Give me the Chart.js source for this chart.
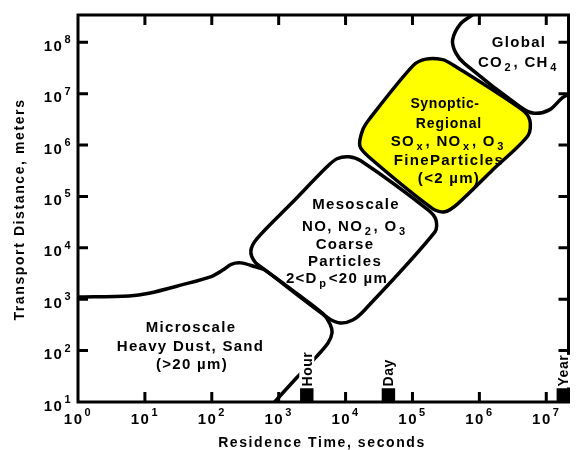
<!DOCTYPE html>
<html>
<head>
<meta charset="utf-8">
<script src="https://cdn.jsdelivr.net/npm/chart.js@4.4.1/dist/chart.umd.min.js"></script>
<style>
html,body{margin:0;padding:0;background:#fff;overflow:hidden;}
#wrap{position:relative;width:578px;height:450px;}
canvas{display:block;}
</style>
</head>
<body>
<div id="wrap"><canvas id="chart" width="578" height="450"></canvas></div>
<script>
// ---- Axis ticks (decades) ----
const xTickValues = [1, 10, 100, 1e3, 1e4, 1e5, 1e6, 1e7];
const xTickExponents = ['0', '1', '2', '3', '4', '5', '6', '7'];
const yTickValues = [10, 100, 1e3, 1e4, 1e5, 1e6, 1e7, 1e8];
const yTickExponents = ['1', '2', '3', '4', '5', '6', '7', '8'];

// ---- Microscale boundary (residence time [s], transport distance [m]) ----
const microTime = [1, 5.8, 11.5, 35.4, 98, 148, 195, 273, 435, 612, 1900, 4630, 5850, 6270, 5470, 3520, 1900, 870, 733];
const microDist = [1100, 1160, 1310, 1900, 2760, 3730, 4780, 5100, 4330, 3730, 1270, 518, 331, 221, 141, 72, 30.7, 10, 7.6];

// ---- Mesoscale region outline ----
const mesoTime = [1580, 5270, 7430, 11200, 16900, 171000, 224000, 217000, 19300, 12800, 8240, 5470, 598, 440, 384, 471, 1580];
const mesoDist = [75300, 378000, 542000, 593000, 495000, 55000, 35200, 20500, 619, 395, 346, 433, 3900, 5340, 8750, 15000, 75300];

// ---- Synoptic-Regional region outline ----
const synTime = [1.59e6, 474000, 305000, 202000, 22100, 16300, 18100, 22900, 102000, 159000, 282000, 400000, 4.34e6, 5.7e6, 5.32e6, 1.59e6];
const synDist = [331000, 71900, 50400, 57500, 593000, 971000, 1.99e6, 3.26e6, 3.52e7, 4.71e7, 4.6e7, 3.67e7, 4.89e6, 2.98e6, 1.52e6, 331000];

// ---- Global region outline ----
const globalTime = [1.2e6, 800000, 525000, 399000, 442000, 601000, 4.05e6, 6.53e6, 1.13e7, 1.75e7, 2.64e7];
const globalDist = [5.42e8, 3.46e8, 2.31e8, 1.13e8, 6.3e7, 3.85e7, 5.58e6, 4.17e6, 4.89e6, 8.38e6, 1.09e7];

// ---- Time markers ----
const markerLabels = ['Hour', 'Day', 'Year'];
const markerTime = [2630, 43700, 1.8e7];
const markerDist = [13.7, 13.7, 13.7];

const FONT = '"Liberation Sans", Arial, Helvetica, sans-serif';

function pts(xs, ys) { return xs.map((x, i) => ({ x: x, y: ys[i] })); }

const regionText = [
  { x: 519, y: 47, parts: [['Global', 'n']] },
  { x: 518.5, y: 67, parts: [['CO', 'n'], ['2', 'sub'], [', CH', 'n'], ['4', 'sub']] },
  { x: 445, y: 108, size: 14, sp: 0.6, parts: [['Synoptic-', 'n']] },
  { x: 449, y: 127.5, size: 14, sp: 0.9, parts: [['Regional', 'n']] },
  { x: 448.5, y: 145.5, parts: [['SO', 'n'], ['x', 'sub'], [', NO', 'n'], ['x', 'sub'], [', O', 'n'], ['3', 'sub']] },
  { x: 449, y: 164.5, parts: [['FineParticles', 'n']] },
  { x: 449, y: 183, parts: [['(<2 \u00b5m)', 'n']] },
  { x: 356, y: 209, parts: [['Mesoscale', 'n']] },
  { x: 355, y: 230.5, parts: [['NO, NO', 'n'], ['2', 'sub'], [', O', 'n'], ['3', 'sub']] },
  { x: 345, y: 249, parts: [['Coarse', 'n']] },
  { x: 345, y: 265.5, parts: [['Particles', 'n']] },
  { x: 337, y: 283, parts: [['2<D', 'n'], ['p', 'sub'], ['<20 \u00b5m', 'n']] },
  { x: 191, y: 332, parts: [['Microscale', 'n']] },
  { x: 190.5, y: 350.5, parts: [['Heavy Dust, Sand', 'n']] },
  { x: 192, y: 369, parts: [['(>20 \u00b5m)', 'n']] }
];

function drawRich(ctx, parts, cx, by, size, spacing) {
  const segs = [];
  let total = 0;
  ctx.letterSpacing = spacing + 'px';
  for (const [t, m] of parts) {
    const fs = m === 'n' ? size : Math.round(size * 0.72);
    ctx.font = 'bold ' + fs + 'px ' + FONT;
    const w = ctx.measureText(t).width;
    const gap = m === 'n' ? 0 : 1.5;
    segs.push({ t, m, fs, w, gap });
    total += w + 2 * gap;
  }
  let x = cx - total / 2;
  ctx.textAlign = 'left';
  ctx.textBaseline = 'alphabetic';
  for (const s of segs) {
    ctx.font = 'bold ' + s.fs + 'px ' + FONT;
    x += s.gap;
    const dy = s.m === 'sub' ? 4 : (s.m === 'sup' ? -8 : 0);
    ctx.fillText(s.t, x, by + dy);
    x += s.w + s.gap;
  }
}

const decorPlugin = {
  id: 'decor',
  afterDatasetsDraw(chart) {
    const ctx = chart.ctx;
    const a = chart.chartArea;
    const xs = chart.scales.x, ys = chart.scales.y;
    ctx.save();
    ctx.fillStyle = '#000';
    ctx.strokeStyle = '#000';

    // frame
    ctx.lineWidth = 3;
    ctx.strokeRect(a.left, a.top, a.right - a.left, a.bottom - a.top);

    // inward ticks
    const tl = 10;
    ctx.lineWidth = 3;
    ctx.beginPath();
    xTickValues.forEach(v => {
      const px = xs.getPixelForValue(v);
      if (px <= a.left + 2) return;
      ctx.moveTo(px, a.bottom); ctx.lineTo(px, a.bottom - tl);
      ctx.moveTo(px, a.top); ctx.lineTo(px, a.top + tl);
    });
    yTickValues.forEach(v => {
      const py = ys.getPixelForValue(v);
      if (py >= a.bottom - 2) return;
      ctx.moveTo(a.left, py); ctx.lineTo(a.left + tl, py);
      ctx.moveTo(a.right, py); ctx.lineTo(a.right - tl, py);
    });
    ctx.stroke();

    // tick labels
    ctx.letterSpacing = '1.5px';
    xTickValues.forEach((v, i) => {
      const px = xs.getPixelForValue(v);
      ctx.font = 'bold 15px ' + FONT;
      const w1 = ctx.measureText('10').width;
      ctx.font = 'bold 11px ' + FONT;
      const w2 = ctx.measureText(xTickExponents[i]).width;
      const x0 = px - (w1 + 1 + w2) / 2;
      ctx.textAlign = 'left';
      ctx.textBaseline = 'alphabetic';
      ctx.font = 'bold 15px ' + FONT;
      ctx.fillText('10', x0, a.bottom + 22);
      ctx.font = 'bold 11px ' + FONT;
      ctx.fillText(xTickExponents[i], x0 + w1 + 1, a.bottom + 13.5);
    });
    yTickValues.forEach((v, i) => {
      const py = ys.getPixelForValue(v);
      ctx.font = 'bold 11px ' + FONT;
      const w2 = ctx.measureText(yTickExponents[i]).width;
      ctx.textAlign = 'left';
      ctx.textBaseline = 'alphabetic';
      const xr = a.left - 6;
      ctx.fillText(yTickExponents[i], xr - w2, py + 1);
      ctx.font = 'bold 15px ' + FONT;
      const w1 = ctx.measureText('10').width;
      ctx.fillText('10', xr - w2 - 1 - w1, py + 8.5);
    });

    // axis titles
    ctx.letterSpacing = '1.6px';
    ctx.font = 'bold 14px ' + FONT;
    ctx.textAlign = 'center';
    ctx.textBaseline = 'alphabetic';
    ctx.fillText('Residence Time, seconds', 322, 447);
    ctx.save();
    ctx.translate(24, 209.5);
    ctx.rotate(-Math.PI / 2);
    ctx.fillText('Transport Distance, meters', 0, 0);
    ctx.restore();

    // region labels
    regionText.forEach(r => drawRich(ctx, r.parts, r.x, r.y, r.size || 15, r.sp !== undefined ? r.sp : 1.3));

    // marker labels (rotated)
    ctx.letterSpacing = '0.5px';
    ctx.font = 'bold 14px ' + FONT;
    markerLabels.forEach((lab, i) => {
      const px = xs.getPixelForValue(markerTime[i]);
      const py = ys.getPixelForValue(markerDist[i]);
      const top = py - 7.5;
      const w = ctx.measureText(lab).width;
      ctx.save();
      ctx.translate(px, top);
      ctx.rotate(-Math.PI / 2);
      ctx.fillStyle = '#fff';
      ctx.fillRect(0, -7.5, w + 1, 15);
      ctx.fillStyle = '#000';
      ctx.textAlign = 'left';
      ctx.textBaseline = 'alphabetic';
      ctx.fillText(lab, 1, 5);
      ctx.restore();
    });

    ctx.restore();
  }
};

const lineCommon = {
  showLine: true,
  pointRadius: 0,
  borderColor: '#000',
  borderWidth: 3.5,
  tension: 0.3,
  clip: 0,
  borderJoinStyle: 'round',
  borderCapStyle: 'round'
};

new Chart(document.getElementById('chart'), {
  type: 'scatter',
  data: {
    datasets: [
      Object.assign({ label: 'Markers', data: pts(markerTime, markerDist), showLine: false,
        pointStyle: 'rect', pointRadius: 9.5, pointBackgroundColor: '#000', pointBorderWidth: 0, clip: 0 }),
      Object.assign({}, lineCommon, { label: 'Microscale', data: pts(microTime, microDist), fill: false }),
      Object.assign({}, lineCommon, { label: 'Mesoscale', data: pts(mesoTime, mesoDist), fill: false }),
      Object.assign({}, lineCommon, { label: 'Global', data: pts(globalTime, globalDist), fill: false }),
      Object.assign({}, lineCommon, { label: 'Synoptic-Regional', data: pts(synTime, synDist),
        fill: 'shape', backgroundColor: '#ffff00' })
    ]
  },
  options: {
    responsive: false,
    animation: false,
    events: [],
    layout: { padding: { left: 78, top: 15, right: 4, bottom: 48 } },
    plugins: { legend: { display: false }, tooltip: { enabled: false } },
    elements: { line: { capBezierPoints: false } },
    scales: {
      x: { type: 'logarithmic', min: 1, max: 2.15e7, display: false },
      y: { type: 'logarithmic', min: 10, max: 3.4e8, display: false }
    }
  },
  plugins: [decorPlugin]
});
</script>
</body>
</html>
